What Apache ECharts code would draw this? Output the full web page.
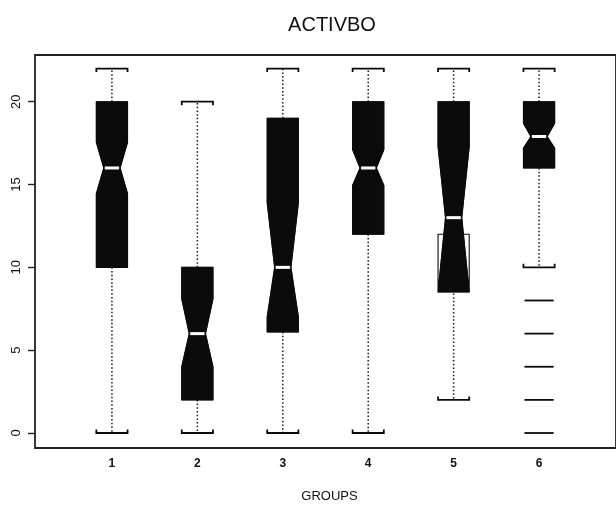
<!DOCTYPE html>
<html>
<head>
<meta charset="utf-8">
<script src="https://cdn.jsdelivr.net/npm/echarts@6/dist/echarts.min.js"></script>
<style>html,body{margin:0;padding:0;background:#fff}#c{width:616px;height:511px}</style>
</head>
<body>
<div id="c"></div>
<script>
// ---- data ----
const chartTitle = 'ACTIVBO';
const xTitle = 'GROUPS';
const groups = ['1', '2', '3', '4', '5', '6'];
const groupPos = [1, 2, 3, 4, 5, 6];
const whiskerLow  = [0, 0, 0, 0, 2, 10];
const q1          = [10, 2, 6.1, 12, 12, 16];
const medians     = [16, 6, 10, 16, 13, 17.9];
const q3          = [20, 10, 19, 20, 20, 20];
const whiskerHigh = [22, 20, 22, 22, 22, 22];
const notchLow    = [14.45, 4.0, 7.0, 14.95, 8.5, 17.2];
const notchHigh   = [17.55, 8.1, 13.9, 17.1, 17.3, 18.7];
const outlierGroup = [6, 6, 6, 6, 6];
const outlierValue = [0, 2, 4, 6, 8];
const yTicks = [0, 5, 10, 15, 20];

// ---- build ----
const boxData = groupPos.map((p, i) => [p, whiskerLow[i], q1[i], medians[i], q3[i], whiskerHigh[i], notchLow[i], notchHigh[i]]);
const outData = outlierGroup.map((g, i) => [g, outlierValue[i]]);

const BOX_W = 0.365;
const INK = '#0b0b0b';

function renderBox(params, api) {
  const x = api.value(0);
  const wl = api.value(1), b1 = api.value(2), md = api.value(3), b3 = api.value(4), wh = api.value(5), nlo = api.value(6), nhi = api.value(7);
  const cx = api.coord([x, md])[0];
  const Y = v => api.coord([x, v])[1];
  const hw = api.size([BOX_W, 0])[0] / 2;
  const wn = hw * 0.52;
  const ml = hw * 0.46;
  const top = Math.max(b3, nhi), bot = Math.min(b1, nlo);
  const dotted = { stroke: '#1a1a1a', lineWidth: 1.5, lineDash: [1.5, 2.2] };
  const solid = { stroke: INK, lineWidth: 1.8, fill: null };
  return {
    type: 'group',
    children: [
      { type: 'line', shape: { x1: cx, y1: Y(b3), x2: cx, y2: Y(wh) }, style: dotted },
      { type: 'line', shape: { x1: cx, y1: Y(b1), x2: cx, y2: Y(wl) }, style: dotted },
      { type: 'polyline', shape: { points: [[cx - hw, Y(wh) + 3.5], [cx - hw, Y(wh)], [cx + hw, Y(wh)], [cx + hw, Y(wh) + 3.5]] }, style: solid },
      { type: 'polyline', shape: { points: [[cx - hw, Y(wl) - 3.5], [cx - hw, Y(wl)], [cx + hw, Y(wl)], [cx + hw, Y(wl) - 3.5]] }, style: solid },
      { type: 'polygon', shape: { points: [
          [cx - hw, Y(top)], [cx - hw, Y(nhi)], [cx - wn, Y(md)], [cx - hw, Y(nlo)], [cx - hw, Y(bot)],
          [cx + hw, Y(bot)], [cx + hw, Y(nlo)], [cx + wn, Y(md)], [cx + hw, Y(nhi)], [cx + hw, Y(top)] ] },
        style: { fill: INK, stroke: INK, lineWidth: 0.8 } },
      { type: 'polygon', shape: { points: [
          [cx - hw, Y(b1)], [cx - hw, Y(nlo)], [cx - wn, Y(md)], [cx - hw, Y(nhi)], [cx - hw, Y(b3)],
          [cx + hw, Y(b3)], [cx + hw, Y(nhi)], [cx + wn, Y(md)], [cx + hw, Y(nlo)], [cx + hw, Y(b1)] ] },
        style: { fill: null, stroke: INK, lineWidth: 1.1 } },
      { type: 'line', shape: { x1: cx - ml, y1: Y(md), x2: cx + ml, y2: Y(md) }, style: { stroke: '#fff', lineWidth: 3 } }
    ]
  };
}

function renderOutlier(params, api) {
  const p = api.coord([api.value(0), api.value(1)]);
  const hw = api.size([BOX_W, 0])[0] / 2;
  return { type: 'line', shape: { x1: p[0] - hw + 1, y1: p[1], x2: p[0] + hw - 1, y2: p[1] }, style: { stroke: INK, lineWidth: 1.8 } };
}

const chart = echarts.init(document.getElementById('c'), null, { renderer: 'canvas' });
chart.setOption({
  animation: false,
  backgroundColor: '#fff',
  title: {
    text: chartTitle, left: 327, top: 10, textAlign: 'center',
    textStyle: { fontFamily: 'Liberation Sans', fontSize: 20, fontWeight: 'normal', color: '#111' }
  },
  grid: { left: 35, top: 55, width: 590, height: 393, show: true, borderColor: '#222', borderWidth: 1.8, backgroundColor: 'transparent' },
  xAxis: {
    type: 'value', min: 0.0993, max: 6.9007,
    axisLine: { show: false }, axisTick: { show: false }, splitLine: { show: false },
    axisLabel: {
      customValues: groupPos, margin: 10,
      formatter: v => groups[groupPos.indexOf(v)],
      fontFamily: 'Liberation Sans', fontSize: 12, fontWeight: 'bold', color: '#111'
    },
    name: xTitle, nameLocation: 'middle', nameGap: 42,
    nameTextStyle: { fontFamily: 'Liberation Sans', fontSize: 13, color: '#111', padding: [0, 0, 0, 8] }
  },
  yAxis: {
    type: 'value', min: -0.905, max: 22.82,
    axisLine: { show: false }, splitLine: { show: false },
    axisTick: { show: true, customValues: yTicks, length: 7, lineStyle: { color: '#222', width: 1.4 } },
    axisLabel: {
      customValues: yTicks, rotate: 90, margin: 12,
      fontFamily: 'Liberation Sans', fontSize: 13, color: '#111'
    }
  },
  series: [
    { type: 'custom', renderItem: renderBox, data: boxData, encode: { x: 0, y: [1, 5] }, clip: false },
    { type: 'custom', renderItem: renderOutlier, data: outData, encode: { x: 0, y: 1 } }
  ]
});
</script>
</body>
</html>
